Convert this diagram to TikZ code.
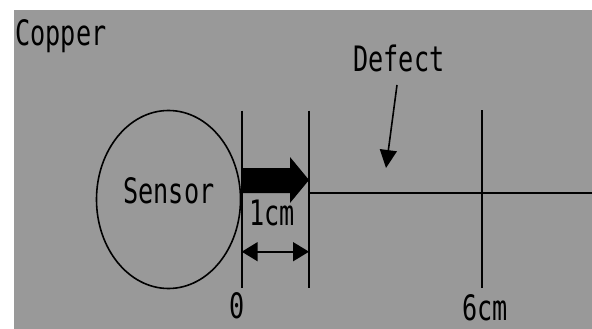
\documentclass[tikz,border=0pt]{standalone}
\usepackage{fontspec}
\newfontfamily\gothfont[FakeStretch=0.72]{DejaVu Sans Mono}
\usetikzlibrary{arrows.meta,shapes.geometric}
\definecolor{plategray}{RGB}{153,153,153}
\tikzset{
	lbl/.style={font=\gothfont\fontsize{35}{35}\selectfont, inner sep=0pt, anchor=base},
	tickline/.style={line width=1.6pt},
}
\begin{document}
\begin{tikzpicture}[x=1pt,y=-1pt]
	\useasboundingbox (0,0) rectangle (592,329);
	\fill[plategray] (14,10) rectangle (592,329);
	\node[lbl] (copper) at (61,46) {Copper};
	\node[draw, tickline, ellipse, minimum width=144pt, minimum height=178pt, inner sep=0pt] (sensor) at (168.5,199.5) {};
	\node[lbl] (sensorlbl) at (169,203) {Sensor};
	% marks along the line
	\coordinate (zerotop) at (241.7,110.7);
	\coordinate (zerobot) at (241.7,288);
	\coordinate (onetop) at (309,110.7);
	\coordinate (onebot) at (309,288);
	\coordinate (sixtop) at (482,110);
	\coordinate (sixbot) at (482,288);
	\coordinate (lineend) at (592,193);
	\draw[tickline] (zerotop) -- (zerobot);
	\draw[tickline] (onetop) -- (onebot);
	\draw[tickline] (sixtop) -- (sixbot);
	\draw[tickline] (onetop |- lineend) -- (lineend);
	\fill (241,168) -- (290,168) -- (290,157) -- (309,180) -- (290,203) -- (290,193) -- (241,193) -- cycle;
	\node[lbl] (onecm) at (272,225) {1cm};
	\draw[tickline, {Triangle[length=16pt,width=19pt]}-{Triangle[length=16pt,width=19pt]}] (zerotop |- 0,251.7) -- (onetop |- 0,251.7);
	\node[lbl] (zero) at (237,318) {0};
	\node[lbl] (sixcm) at (485,320) {6cm};
	\node[lbl] (defect) at (399,72) {Defect};
	\coordinate (flaw) at (386,168);
	\draw[tickline, -{Triangle[length=18pt,width=17pt]}] (397,85) -- (flaw);
\end{tikzpicture}
\end{document}
